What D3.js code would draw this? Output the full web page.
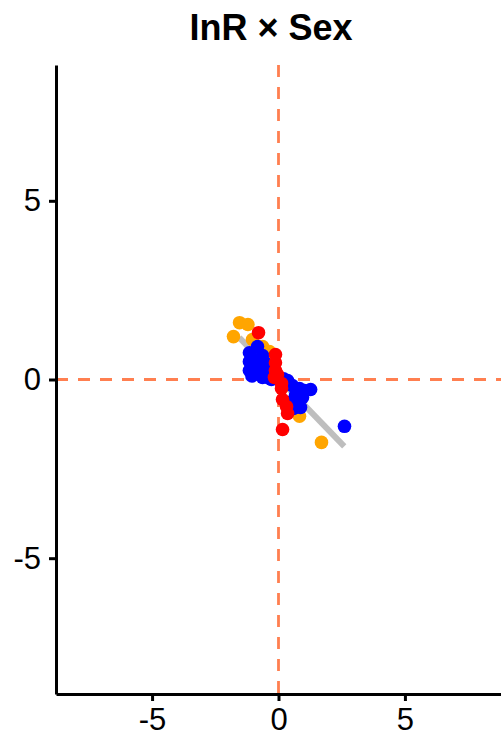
<!DOCTYPE html>
<html>
<head>
<meta charset="utf-8">
<script src="https://cdn.jsdelivr.net/npm/d3@7"></script>
<style>
  body { margin: 0; background: white; }
  svg { display: block; font-family: "Liberation Sans", Arial, sans-serif; }
</style>
</head>
<body>
<div id="dataviz"></div>
<script>
//----------------
// Data
//----------------

const title = "InR × Sex";
const ticks = [-5, 0, 5];
const domain = [-8.8, 8.8];

const orangeX = [-1.54, -1.21, -1.78, -1.03, -0.63, -0.36, 0.83, 0.63, 1.70, 0.43];
const orangeY = [1.59, 1.54, 1.20, 1.12, 0.92, 0.78, -1.03, -0.89, -1.76, -0.70];

const blueX = [-0.83, -1.15, -0.63, -1.15, -0.51, -1.15, -0.83, -0.43, -0.63, -0.28, 0.08, 0.36,
  0.55, 0.83, 1.27, 0.67, 0.95, 0.47, 0.87, 0.59, 2.61, 1.03, -0.95, -0.75, -0.95, -1.05, -0.40, 0.20];
const blueY = [0.92, 0.75, 0.67, 0.50, 0.45, 0.25, 0.20, 0.22, 0.06, 0.00, -0.03, -0.03,
  -0.17, -0.25, -0.28, -0.45, -0.50, -0.64, -0.78, -0.81, -1.31, -0.31, 0.56, 0.40, 0.35, 0.10, 0.05, 0.02];

const redX = [-0.79, -0.12, -0.12, -0.12, -0.16, 0.12, 0.12, 0.16, 0.32, 0.36, 0.16, -0.04];
const redY = [1.31, 0.70, 0.47, 0.25, 0.06, -0.11, -0.25, -0.56, -0.76, -0.95, -1.40, 0.14];

// fitted line ends
const fitX = [-1.55, 2.6];
const fitY = [1.17, -1.87];

//----------------
// Costants
//----------------

const width = 501, height = 740;
const margin = {top: 65, right: 0, bottom: 46, left: 56};
const radius = 6.8;

//----------------
// Draw
//----------------

var svg = d3.select("#dataviz").append("svg")
  .attr("width", width)
  .attr("height", height);

var x = d3.scaleLinear().domain(domain).range([margin.left, width - margin.right]);
var y = d3.scaleLinear().domain(domain).range([height - margin.bottom, margin.top]);

// reference lines
svg.append("line")
  .attr("x1", x(0)).attr("x2", x(0))
  .attr("y1", y.range()[1]).attr("y2", y.range()[0])
  .attr("stroke", "#FF7F50").attr("stroke-width", 2.8)
  .attr("stroke-dasharray", "12,10");

svg.append("line")
  .attr("x1", x.range()[0]).attr("x2", x.range()[1])
  .attr("y1", y(0)).attr("y2", y(0))
  .attr("stroke", "#FF7F50").attr("stroke-width", 2.8)
  .attr("stroke-dasharray", "12,10");

// fit line
svg.append("line")
  .attr("x1", x(fitX[0])).attr("y1", y(fitY[0]))
  .attr("x2", x(fitX[1])).attr("y2", y(fitY[1]))
  .attr("stroke", "#BEBEBE").attr("stroke-width", 6);

// points
function addPoints(xs, ys, color) {
  svg.append("g").selectAll("circle")
    .data(d3.zip(xs, ys))
    .enter().append("circle")
      .attr("cx", d => x(d[0]))
      .attr("cy", d => y(d[1]))
      .attr("r", radius)
      .attr("fill", color);
}
addPoints(orangeX, orangeY, "#FFA500");
addPoints(blueX, blueY, "#0000FF");
addPoints(redX, redY, "#FF0000");

// axes (hyphen minus, like the original)
var fmt = d => String(d);

var xAxis = svg.append("g")
  .attr("transform", "translate(0," + y.range()[0] + ")")
  .call(d3.axisBottom(x).tickValues(ticks).tickFormat(fmt).tickSize(7).tickSizeOuter(0).tickPadding(7));

var yAxis = svg.append("g")
  .attr("transform", "translate(" + x.range()[0] + ",0)")
  .call(d3.axisLeft(y).tickValues(ticks).tickFormat(fmt).tickSize(7).tickSizeOuter(0).tickPadding(8));

[xAxis, yAxis].forEach(function(a) {
  a.select(".domain").attr("stroke", "black").attr("stroke-width", 3);
  a.selectAll(".tick line").attr("stroke", "black").attr("stroke-width", 3);
  a.selectAll(".tick text")
    .attr("fill", "black")
    .style("font-size", "31px")
    .style("font-family", "'Liberation Sans', Arial, sans-serif");
});

// title
svg.append("text")
  .attr("x", 271)
  .attr("y", 40)
  .attr("text-anchor", "middle")
  .style("font-size", "36px")
  .style("font-weight", "bold")
  .text(title);
</script>
</body>
</html>
